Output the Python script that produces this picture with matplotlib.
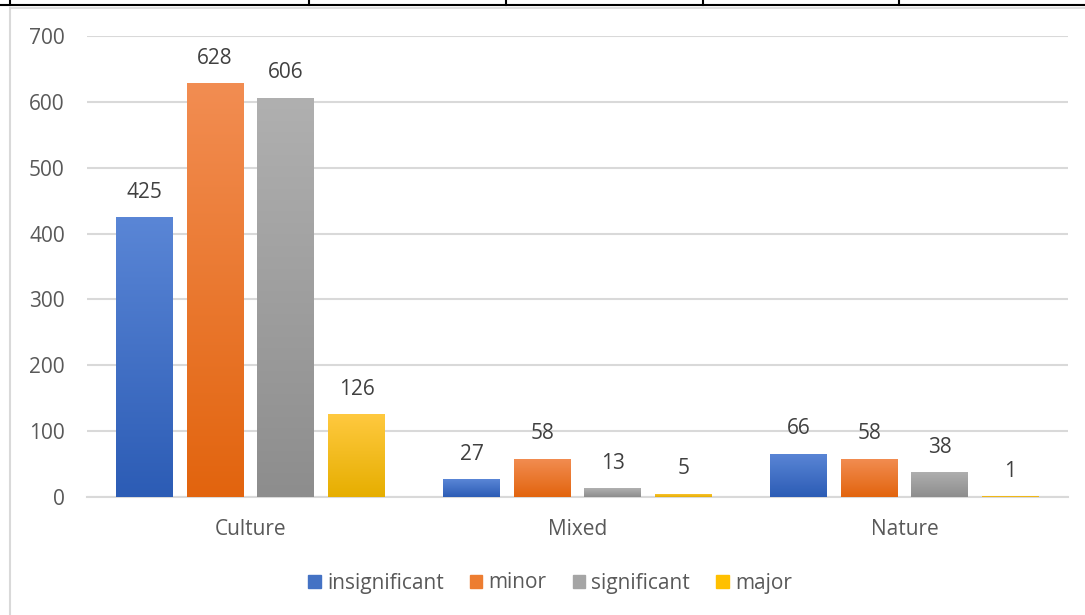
import numpy as np
import matplotlib.pyplot as plt
from matplotlib.colors import LinearSegmentedColormap
from matplotlib.lines import Line2D

categories = ["Culture", "Mixed", "Nature"]
series = ["insignificant", "minor", "significant", "major"]
insignificant = [425, 27, 66]
minor = [628, 58, 58]
significant = [606, 13, 38]
major = [126, 5, 1]
values = [insignificant, minor, significant, major]

# (top colour, bottom colour) for the Excel-like gradient
grads = [("#5a86d6", "#2c5cb5"),
         ("#f28d52", "#e2640e"),
         ("#b0b0b0", "#8d8d8d"),
         ("#ffc93f", "#e6ae00")]
legend_colors = ["#4472c4", "#ed7d31", "#a5a5a5", "#ffc000"]

plt.rcParams['font.family'] = ['Open Sans', 'DejaVu Sans']
fs = 15

W, H = 1085, 615
fig = plt.figure(figsize=(W / 100, H / 100), dpi=100)
ax = fig.add_axes([87 / W, 1 - 497 / H, 981 / W, 461 / H])

x = np.arange(len(categories))
step = 0.216
width = 0.174
grad = np.linspace(0, 1, 256).reshape(-1, 1)

for i, vals in enumerate(values):
    offs = (i - 1.5) * step
    bars = ax.bar(x + offs, vals, width, color=legend_colors[i], zorder=2)
    cmap = LinearSegmentedColormap.from_list("g%d" % i, [grads[i][0], grads[i][1]])
    for b, v in zip(bars, vals):
        bx, by = b.get_x(), b.get_y()
        bw, bh = b.get_width(), b.get_height()
        im = ax.imshow(grad, cmap=cmap, aspect='auto', extent=(bx, bx + bw, by, by + bh),
                       origin='upper', zorder=3)
        im.set_clip_path(b)
        ax.annotate(str(v), (bx + bw / 2, by + bh), xytext=(0, 14), textcoords='offset points',
                    ha='center', va='baseline', fontsize=fs, color='#404040', zorder=4)

ax.set_xlim(-0.5, 2.5)
ax.set_ylim(0, 700)
ax.set_yticks(range(0, 701, 100))
ax.set_xticks(x)
ax.set_xticklabels(categories)
ax.grid(axis='y', color='#d9d9d9', linewidth=1.5, zorder=0)
ax.set_axisbelow(True)
for s in ['top', 'right', 'left']:
    ax.spines[s].set_visible(False)
ax.spines['bottom'].set_color('#d9d9d9')
ax.spines['bottom'].set_linewidth(1.5)
ax.tick_params(axis='both', length=0, labelsize=fs, labelcolor='#595959')
ax.tick_params(axis='y', pad=16)
ax.tick_params(axis='x', pad=16)

handles = [plt.Rectangle((0, 0), 1, 1, color=c) for c in legend_colors]
fig.legend(handles, series, loc='center', bbox_to_anchor=(550 / W, 1 - 583 / H), ncol=4,
           frameon=False, fontsize=fs, labelcolor='#595959', handlelength=0.6,
           handleheight=0.6, handletextpad=0.3, columnspacing=1.25)

# table border above and chart frame
fig.add_artist(Line2D([0, 1], [1 - 5 / H] * 2, color='black', linewidth=1.5))
for px in [10, 309, 506, 703, 899]:
    fig.add_artist(Line2D([px / W] * 2, [1 - 5 / H, 1], color='black', linewidth=1.5))
fig.add_artist(Line2D([10 / W, 1], [1 - 8 / H] * 2, color='#d9d9d9', linewidth=1.2))
fig.add_artist(Line2D([10 / W] * 2, [0, 1 - 8 / H], color='#d9d9d9', linewidth=1.5))

fig.savefig("out.png", dpi=100)
